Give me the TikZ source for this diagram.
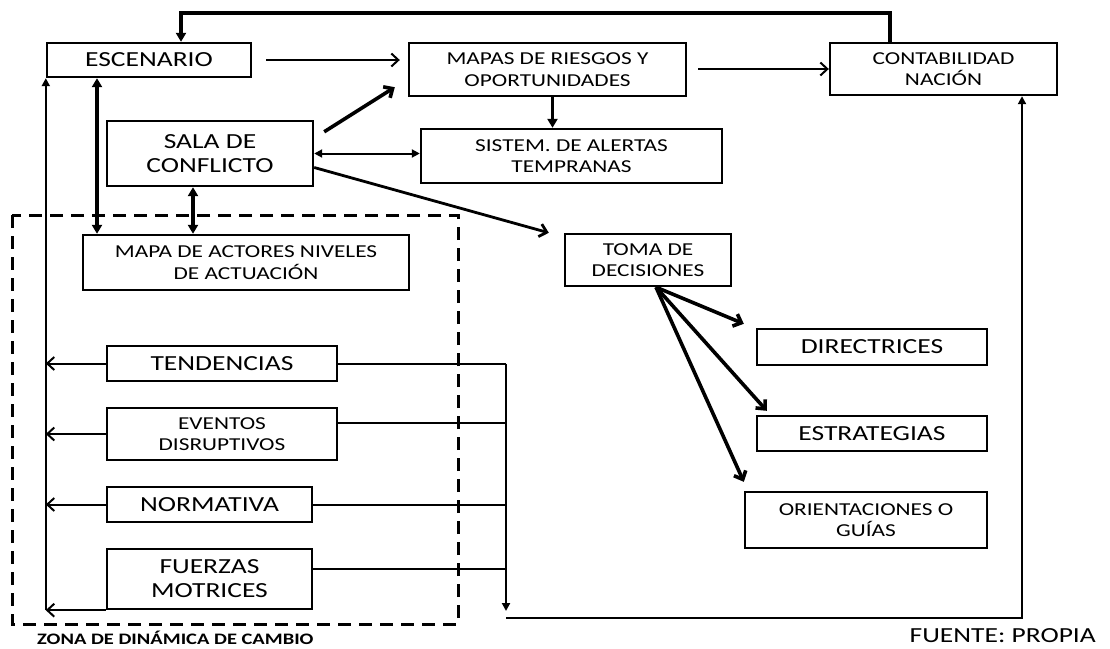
\documentclass[tikz,border=0pt]{standalone}
\usepackage{fontspec}
\setmainfont{Carlito}[FakeStretch=1.28]
\usetikzlibrary{arrows.meta}
\begin{document}
\begin{tikzpicture}[x=1pt,y=-1pt,
  box/.style={draw, line width=2.4pt, inner sep=0pt, align=center},
  big/.style={font=\fontsize{21.5}{24}\selectfont},
  small/.style={font=\fontsize{18.2}{21.5}\selectfont},
  thinline/.style={line width=2pt},
  midline/.style={line width=2.8pt},
  thickline/.style={line width=3.6pt},
  barb/.style={-{Straight Barb[length=7pt,width=13pt]}},
  tri/.style={-{Triangle[length=8pt,width=8pt]}},
  bitri/.style={{Triangle[length=8pt,width=8pt]}-{Triangle[length=8pt,width=8pt]}},
  bigtri/.style={-{Triangle[length=9pt,width=10pt]}},
  bibigtri/.style={{Triangle[length=9pt,width=10pt]}-{Triangle[length=9pt,width=10pt]}},
  line join=miter]
\useasboundingbox (0,0) rectangle (1110,648);

% boxes
\node[box,big,minimum width=204pt,minimum height=34pt] (esc) at (149,60) {ESCENARIO};
\node[box,small,minimum width=277pt,minimum height=53pt] (map) at (547.5,69.5) {MAPAS DE RIESGOS Y\\OPORTUNIDADES};
\node[box,small,minimum width=227pt,minimum height=52pt] (cont) at (943.5,69) {CONTABILIDAD\\NACIÓN};
\node[box,big,minimum width=206pt,minimum height=65pt] (sala) at (210,153.5) {SALA DE\\CONFLICTO};
\node[box,small,minimum width=301pt,minimum height=54pt] (sist) at (571.5,156) {SISTEM. DE ALERTAS\\TEMPRANAS};
\node[box,small,minimum width=326pt,minimum height=55pt] (act) at (246,262.5) {MAPA DE ACTORES NIVELES\\DE ACTUACIÓN};
\node[box,small,minimum width=166pt,minimum height=52pt] (toma) at (648,260) {TOMA DE\\DECISIONES};
\node[box,big,minimum width=230pt,minimum height=36pt] (dir) at (872,347) {DIRECTRICES};
\node[box,big,minimum width=230pt,minimum height=35pt] (est) at (872,433.5) {ESTRATEGIAS};
\node[box,small,minimum width=242pt,minimum height=56pt] (ori) at (866,520) {ORIENTACIONES O\\GUÍAS};
\node[box,big,minimum width=230pt,minimum height=35pt] (ten) at (222,363.5) {TENDENCIAS};
\node[box,small,minimum width=230pt,minimum height=52pt] (eve) at (222,434) {EVENTOS\\DISRUPTIVOS};
\node[box,big,minimum width=205pt,minimum height=35pt] (nor) at (209.5,504.5) {NORMATIVA};
\node[box,big,minimum width=205pt,minimum height=60pt] (fue) at (209.5,579) {FUERZAS\\MOTRICES};

% zone
\draw[line width=3pt, dash pattern=on 13pt off 8pt] (12,215) rectangle (458,624);
\node[font=\bfseries\fontsize{16}{19}\selectfont, anchor=west, inner sep=0pt] (zona) at (37,638) {ZONA DE DINÁMICA DE CAMBIO};
\node[font=\fontsize{21.5}{24}\selectfont, anchor=east, inner sep=0pt] (fuente) at (1096,636) {FUENTE: PROPIA};

% coordinates
\coordinate (topL) at (181,13);
\coordinate (topR) at (890,13);
\coordinate (b1) at (97,0);
\coordinate (b2) at (193,0);
\coordinate (busR) at (506,0);
\coordinate (busRb) at (506,611);
\coordinate (botL) at (506,618);
\coordinate (botR) at (1022,618);

% top feedback
\draw[thickline, bigtri] (cont.north -| topR) -- (topR) -- (topL) -- (topL |- esc.north);
% top row arrows
\draw[thinline, barb] ([xshift=14pt]esc.east) -- ([xshift=-8pt]map.west |- esc.east);
\draw[thinline, barb] ([xshift=11pt]map.east |- cont.west) -- (cont.west);
\draw[thickline, bigtri] ([xshift=5pt]map.south) -- ([xshift=5pt]map.south |- sist.north);
% sala
\draw[thickline, barb] ([xshift=10pt,yshift=-12pt]sala.north east) -- ([xshift=-13pt,yshift=10pt]map.south west);
\draw[thinline, bitri] (sala.east) -- (sala.east -| sist.west);
\draw[midline, barb] ([yshift=-14pt]sala.east) -- ([xshift=-15pt]toma.north west);
\draw[thickline, bibigtri] (esc.south -| b1) -- (act.north -| b1);
\draw[thickline, bibigtri] (sala.south -| b2) -- (act.north -| b2);
% toma
\draw[thickline, barb] ([xshift=8pt]toma.south) -- ([xshift=-12pt,yshift=4pt]dir.north west);
\draw[thickline, barb] ([xshift=8pt]toma.south) -- ([xshift=11pt,yshift=4pt]est.north west);
\draw[thickline, barb] ([xshift=8pt]toma.south) -- ([yshift=9pt]ori.north west);
% left bus
\draw[thinline, tri] (esc.south west |- fue.south west) -- (esc.south west);
\draw[thinline, barb] (ten.west) -- (ten.west -| esc.west);
\draw[thinline, barb] (eve.west) -- (eve.west -| esc.west);
\draw[thinline, barb] (nor.west) -- (nor.west -| esc.west);
\draw[thinline, barb] (fue.south west) -- (fue.south west -| esc.west);
% right bus
\draw[thinline] (ten.east) -- (ten.east -| busR);
\draw[thinline] ([yshift=11pt]eve.east) -- ([yshift=11pt]eve.east -| busR);
\draw[thinline] (nor.east) -- (nor.east -| busR);
\draw[thinline] ([yshift=10pt]fue.east) -- ([yshift=10pt]fue.east -| busR);
\draw[thinline, tri] (ten.east -| busR) -- (busRb);
\draw[midline, tri] (botL) -- (botR) -- (botR |- cont.south);
\end{tikzpicture}
\end{document}
